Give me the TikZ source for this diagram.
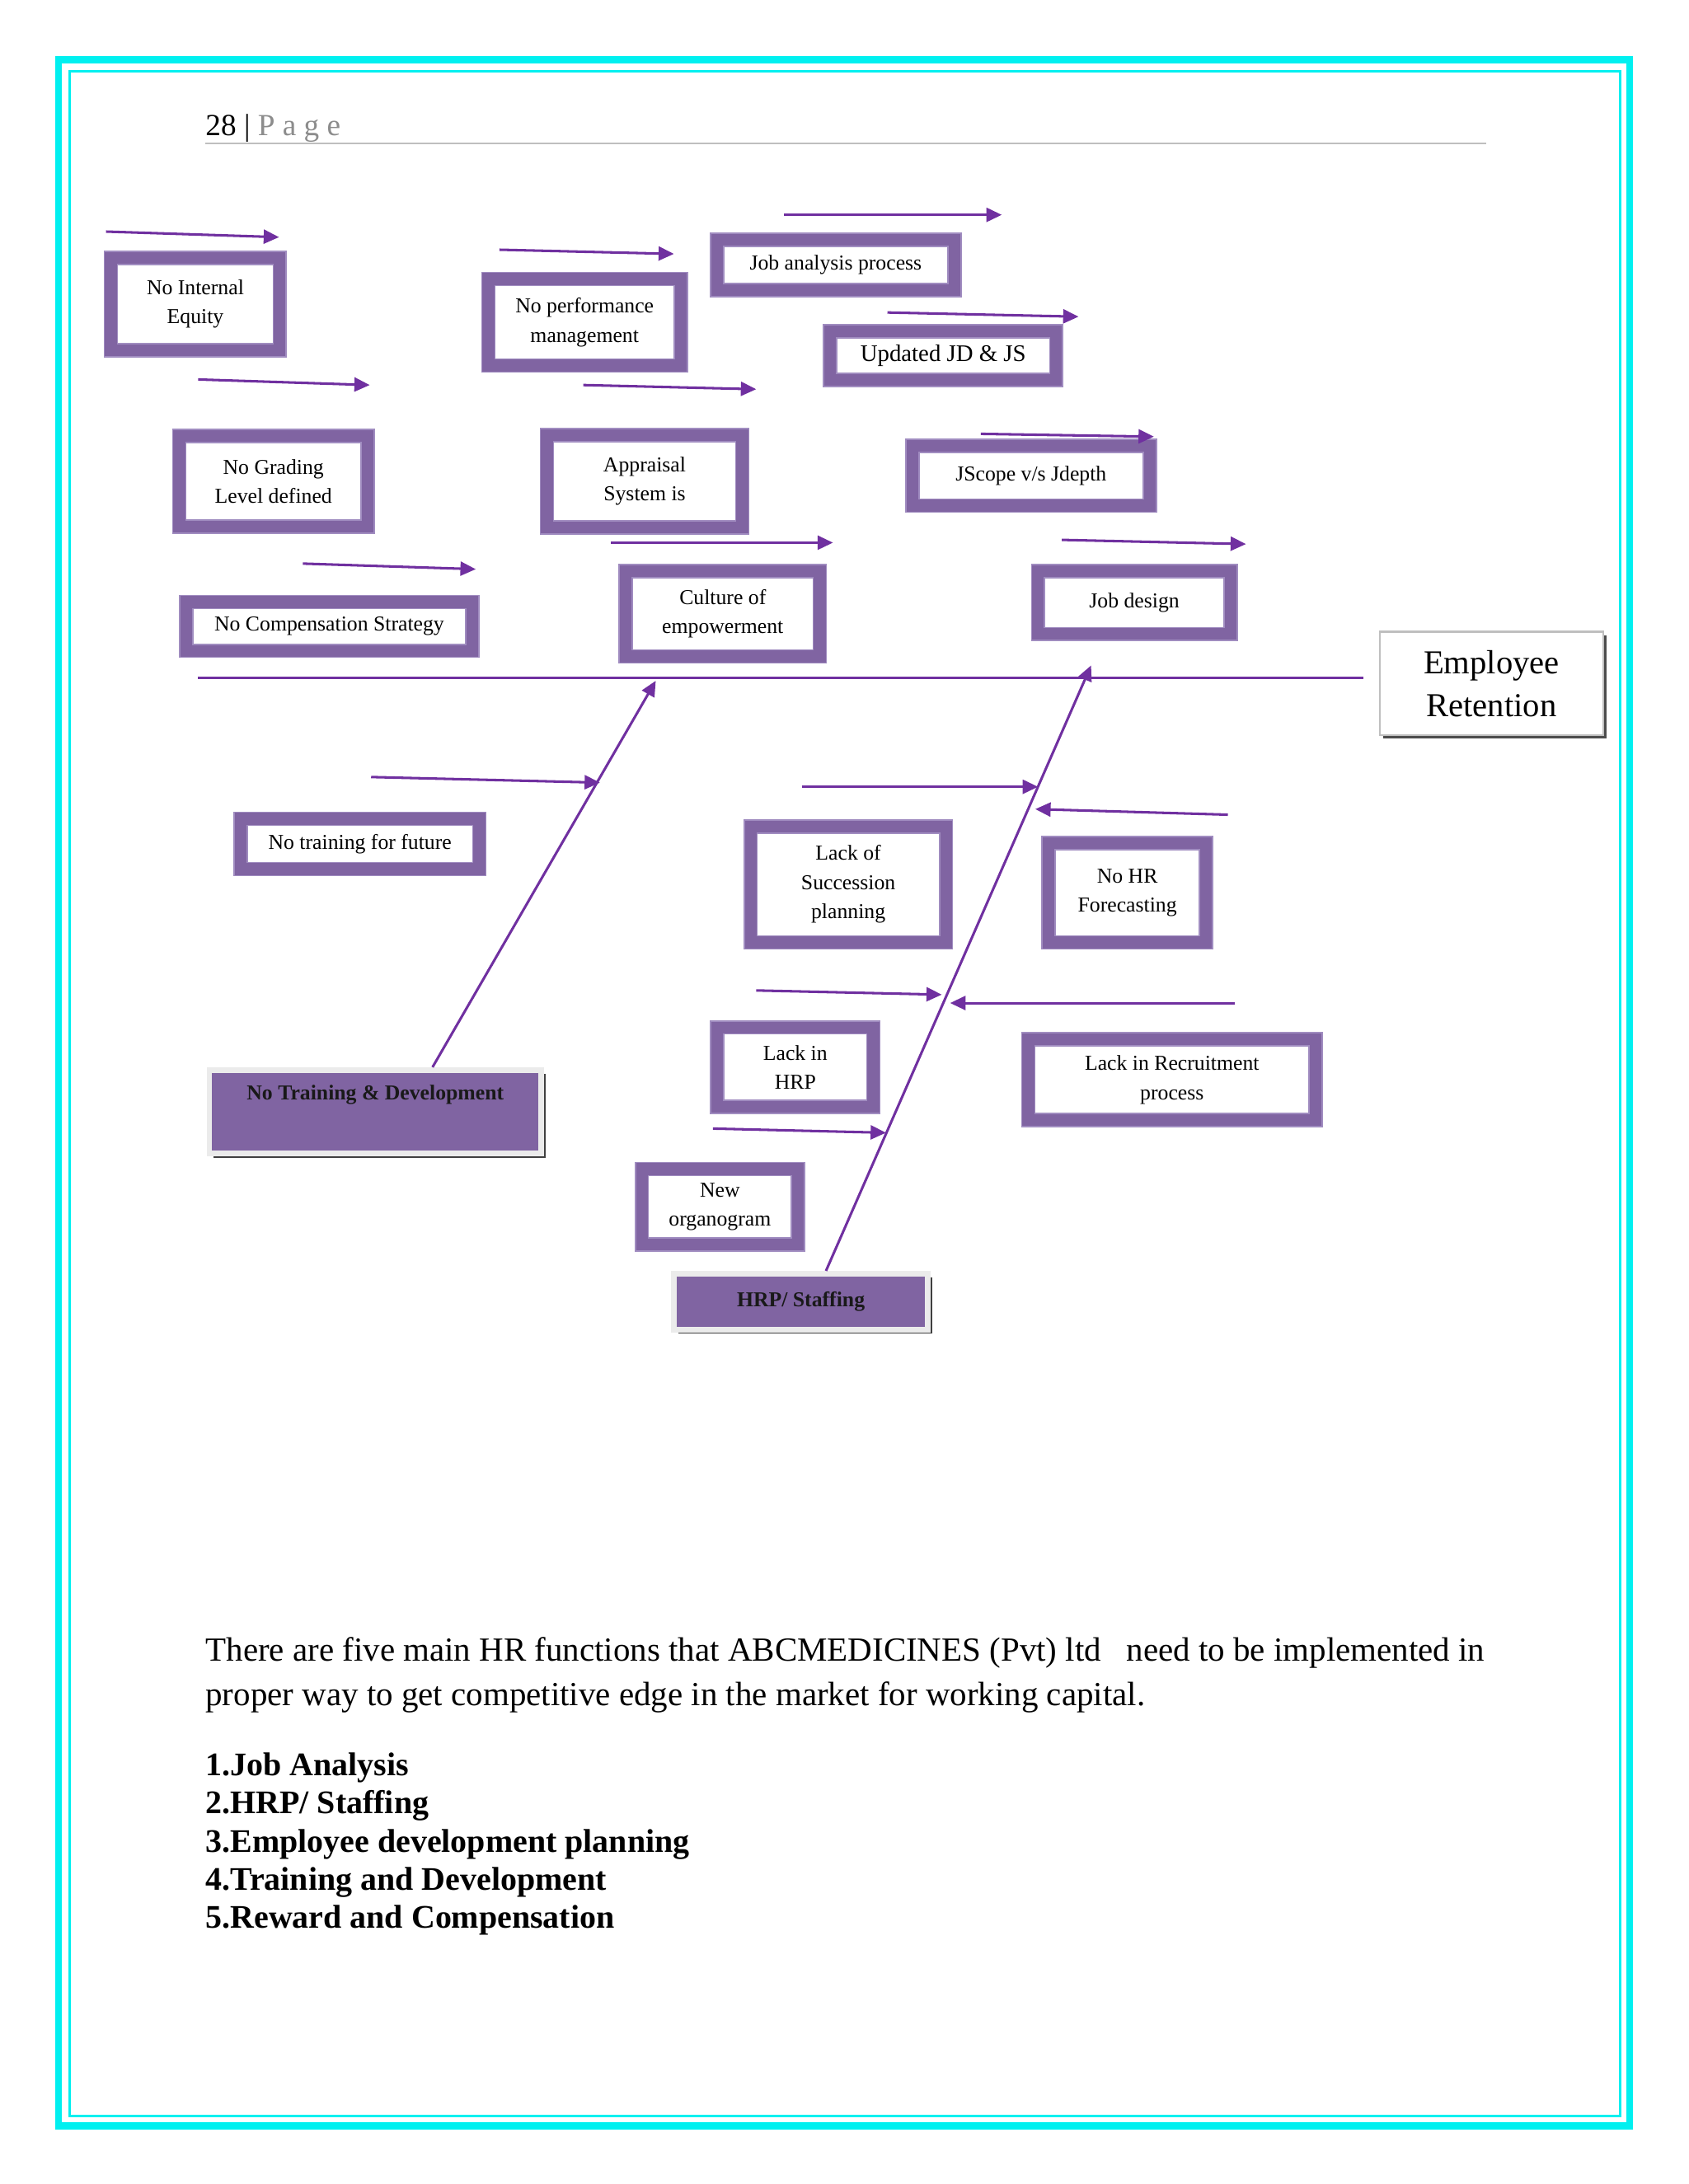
\documentclass[tikz,border=0pt]{standalone}
\usepackage{fontspec}
\setmainfont{Liberation Serif}
\usetikzlibrary{arrows.meta,shadows}
\definecolor{band}{HTML}{8064A2}
\definecolor{lband}{HTML}{A08CC0}
\definecolor{arr}{HTML}{7030A0}
\definecolor{cyanb}{HTML}{00F0F0}
\begin{document}
\begin{tikzpicture}[x=0.5pt,y=-0.5pt,
  bx/.style={draw=lband,line width=0.5pt,double=band,double distance=4.2pt,fill=white,align=center,inner sep=0pt,font=\fontsize{7.6}{10.5}\selectfont},
  hd/.style={fill=band,draw=black!8,line width=2pt,drop shadow={shadow xshift=1.5pt,shadow yshift=-1.5pt,fill=black!75,opacity=1},align=center,inner sep=0pt,font=\bfseries\fontsize{7.6}{10}\selectfont,text=black!90},
  ar/.style={draw=arr,line width=0.9pt,-{Triangle[length=5.5pt,width=5pt]}},
  ln/.style={draw=arr,line width=0.8pt}]
\useasboundingbox (0,0) rectangle (1210,1565.6);
% page frame
\draw[cyanb,line width=2.6pt] (42,43) rectangle (1168,1524);
\draw[cyanb,line width=0.8pt] (50,51) rectangle (1161,1517);
\node[anchor=base west,inner sep=0,font=\fontsize{11}{13}\selectfont] (hdr) at (147,97) {28 | \textcolor{black!45}{P a g e}};
\draw[black!25,line width=0.6pt] (147,103) -- (1065,103);
% boxes
\newcommand\bb[5]{\node[bx,minimum width=#3*0.5pt-5pt,minimum height=#4*0.5pt-5pt] (#1) at #2 {#5};}
\bb{a1}{(140,218)}{131}{76}{No Internal\\Equity}
\bb{a2}{(419,231)}{148}{72}{No performance\\management}
\bb{a3}{(599,190)}{180}{46}{Job analysis process}
\bb{a4}{(676,255)}{172}{45}{\fontsize{8.5}{10}\selectfont Updated JD \& JS}
\bb{a5}{(196,345)}{145}{75}{No Grading\\Level defined}
\bb{a6}{(462,345)}{150}{76}{Appraisal\\System is}
\bb{a7}{(739,341)}{180}{53}{JScope v/s Jdepth}
\bb{a8}{(236,449)}{215}{45}{No Compensation Strategy}
\bb{a9}{(518,440)}{149}{71}{Culture of\\empowerment}
\bb{a10}{(813,432)}{148}{55}{Job design}
\bb{b1}{(258,605)}{181}{46}{No training for future}
\bb{b2}{(608,634)}{150}{93}{Lack of\\Succession\\planning}
\bb{b3}{(808,640)}{123}{81}{No HR\\Forecasting}
\bb{b4}{(570,765)}{122}{67}{Lack in\\HRP}
\bb{b5}{(840,774)}{216}{68}{Lack in Recruitment\\process}
\bb{b6}{(516,865)}{122}{64}{New\\organogram}
\node[fill=white,draw=black!25,line width=0.8pt,drop shadow={shadow xshift=1.2pt,shadow yshift=-1.2pt,fill=black!70,opacity=1},minimum width=80pt,minimum height=37pt,align=center,font=\fontsize{12}{15.5}\selectfont] (er) at (1069,490) {Employee\\Retention};
\node[hd,minimum width=119pt,minimum height=30pt] (td) at (269,797) {No Training \& Development\\[4pt]\mbox{}};
\node[hd,minimum width=91pt,minimum height=20pt] (hs) at (574,933) {HRP/ Staffing};
% spine and bones
\coordinate (s0) at (142,486);
\coordinate (s1) at (977,486);
\draw[ln] (s0) -- (s1);
\coordinate (t1) at (470,488);
\coordinate (t2) at (782,477);
\draw[ar] (td.north) ++(41,0) coordinate (f1) (f1) -- (t1);
\draw[ar] (hs.north) ++(18,0) coordinate (f2) (f2) -- (t2);
% small arrows
\foreach \x/\y/\u/\v [count=\i] in {76/166/200/170,142/272/265/276,217/404/341/408,358/179/483/182,418/276/542/279,438/389/597/389,562/154/718/154,636/224/773/227,703/311/827/313,761/387/893/390,266/557/430/561,575/564/744/564,880/584/742/580,542/710/675/713,885/719/681/719,511/809/635/812}{
  \coordinate (p\i) at (\x,\y); \coordinate (q\i) at (\u,\v);
  \draw[ar] (p\i) -- (q\i);
}
% text
\node[anchor=north west,inner sep=0,align=left,font=\fontsize{12.1}{16}\selectfont] (tx) at (147,1173) {There are five main HR functions that ABCMEDICINES (Pvt) ltd\ \ \ need to be implemented in\\proper way to get competitive edge in the market for working capital.};
\node[anchor=north west,inner sep=0,align=left,font=\bfseries\fontsize{11.8}{13.7}\selectfont] (ls) at (147,1256) {1.Job Analysis\\2.HRP/ Staffing\\3.Employee development planning\\4.Training and Development\\5.Reward and Compensation};
\end{tikzpicture}
\end{document}
